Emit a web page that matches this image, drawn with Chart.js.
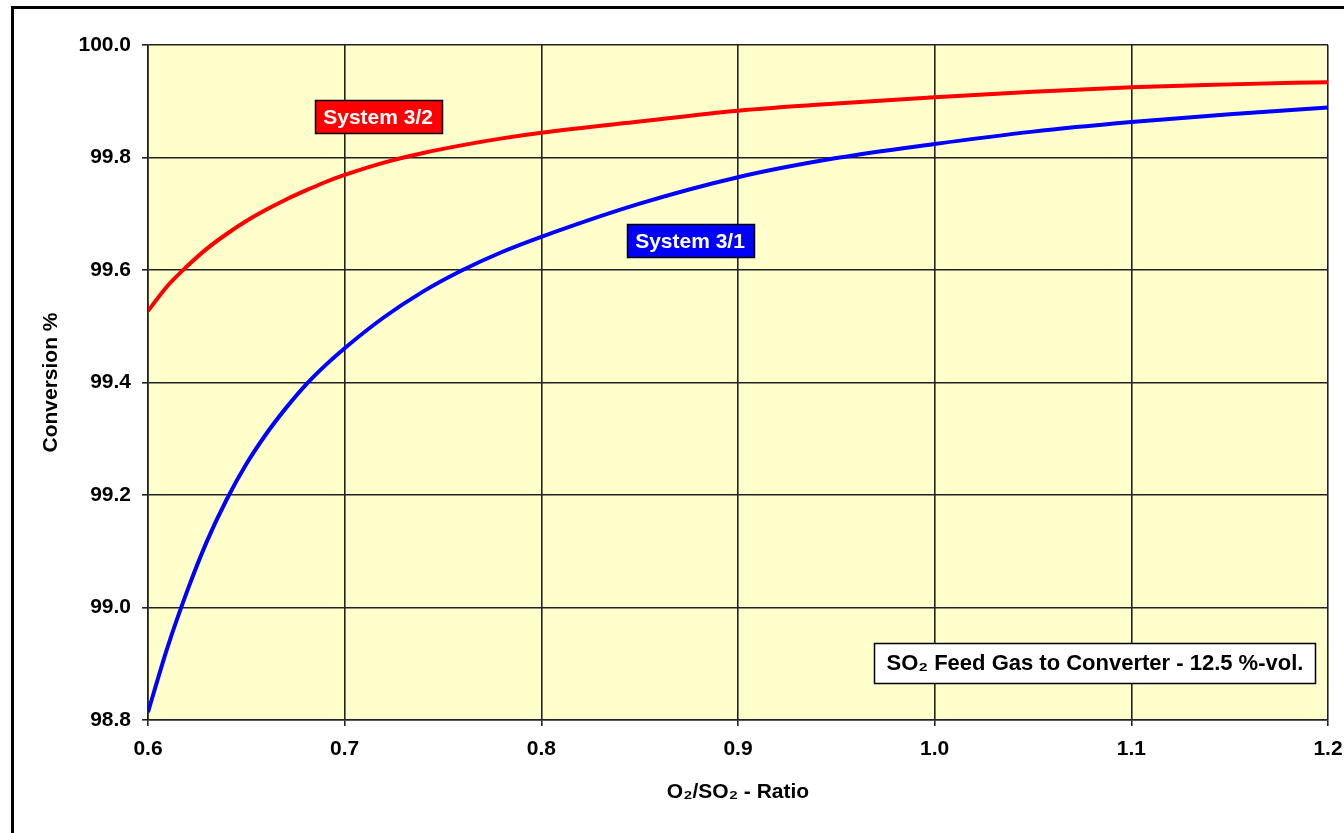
<!DOCTYPE html>
<html>
<head>
<meta charset="utf-8">
<script src="https://cdn.jsdelivr.net/npm/chart.js@4.4.0/dist/chart.umd.min.js"></script>
<style>
  html, body { margin: 0; padding: 0; background: #fff; }
  #wrap { width: 1344px; height: 833px; position: relative; }
</style>
</head>
<body>
<div id="wrap"><canvas id="chart" width="1344" height="833"></canvas></div>
<script>
// O2/SO2 ratio and conversion values
const ratio = [0.60, 0.61, 0.62, 0.63, 0.64, 0.65, 0.66, 0.67, 0.68, 0.69, 0.70,
  0.72, 0.74, 0.76, 0.78, 0.80, 0.85, 0.90, 0.95, 1.00, 1.05, 1.10, 1.15, 1.20];
const system32 = [99.527, 99.572, 99.607, 99.638, 99.664, 99.687, 99.707, 99.725, 99.741, 99.756, 99.769,
  99.791, 99.808, 99.822, 99.834, 99.844, 99.864, 99.883, 99.896, 99.907, 99.917, 99.925, 99.930, 99.934];
const system31 = [98.814, 98.930, 99.030, 99.118, 99.192, 99.255, 99.308, 99.354, 99.395, 99.430, 99.461,
  99.516, 99.562, 99.600, 99.632, 99.659, 99.718, 99.765, 99.799, 99.824, 99.846, 99.863, 99.877, 99.889];
const xTicks = [0.6, 0.7, 0.8, 0.9, 1.0, 1.1, 1.2];
const yTicks = [98.8, 99.0, 99.2, 99.4, 99.6, 99.8, 100.0];

const FONT = '"Liberation Sans", Arial, sans-serif';

function pts(ys) {
  return ratio.map((x, i) => ({ x: x, y: ys[i] }));
}

// text boxes placed in data coordinates
const boxes = [
  { text: 'System 3/2', x: 0.717, y: 99.872, w: 127, h: 33, size: 21, bg: '#ff0000', fg: '#ffffff' },
  { text: 'System 3/1', x: 0.8756, y: 99.652, w: 127, h: 33, size: 21, bg: '#0000ff', fg: '#ffffff' },
  { text: 'SO₂ Feed Gas to Converter - 12.5 %-vol.', x: 1.0815, y: 98.901, w: 441, h: 40, size: 22, bg: '#ffffff', fg: '#000000' }
];

const framePlugin = {
  id: 'frame',
  beforeDraw(chart) {
    const ctx = chart.ctx;
    const a = chart.chartArea;
    ctx.save();
    ctx.fillStyle = '#ffffff';
    ctx.fillRect(0, 0, chart.width, chart.height);
    ctx.fillStyle = '#000000';
    ctx.fillRect(11, 6, 3, chart.height);
    ctx.fillRect(11, 6, chart.width, 3);
    ctx.fillStyle = '#ffffcc';
    ctx.fillRect(a.left, a.top, a.right - a.left, a.bottom - a.top);
    ctx.restore();
  },
  afterDatasetsDraw(chart) {
    const ctx = chart.ctx;
    const sx = chart.scales.x, sy = chart.scales.y;
    ctx.save();
    boxes.forEach(b => {
      const cx = sx.getPixelForValue(b.x);
      const cy = sy.getPixelForValue(b.y);
      const l = Math.round(cx - b.w / 2), t = Math.round(cy - b.h / 2);
      ctx.fillStyle = b.bg;
      ctx.fillRect(l, t, b.w, b.h);
      ctx.strokeStyle = '#000';
      ctx.lineWidth = 1.5;
      ctx.strokeRect(l + 0.5, t + 0.5, b.w, b.h);
      ctx.fillStyle = b.fg;
      ctx.font = 'bold ' + b.size + 'px ' + FONT;
      ctx.textAlign = 'center';
      ctx.textBaseline = 'middle';
      ctx.fillText(b.text, cx, cy + 1);
    });
    ctx.restore();
  }
};

new Chart(document.getElementById('chart'), {
  type: 'line',
  data: {
    datasets: [
      { label: 'System 3/2', data: pts(system32), borderColor: '#ff0000', borderWidth: 4,
        pointRadius: 0, cubicInterpolationMode: 'monotone', fill: false },
      { label: 'System 3/1', data: pts(system31), borderColor: '#0000ff', borderWidth: 4,
        pointRadius: 0, cubicInterpolationMode: 'monotone', fill: false }
    ]
  },
  options: {
    responsive: false,
    animation: false,
    layout: { padding: { left: 0, top: 45, right: 16, bottom: 0 } },
    plugins: { legend: { display: false }, tooltip: { enabled: false } },
    scales: {
      x: {
        type: 'linear',
        min: 0.6, max: 1.2,
        afterBuildTicks(s) { s.ticks = xTicks.map(v => ({ value: v })); },
        afterFit(s) { s.height = 113; s.paddingLeft = 0; s.paddingRight = 0; },
        ticks: {
          color: '#000', padding: 11, maxRotation: 0,
          font: { family: FONT, size: 21, weight: 'bold' },
          callback: v => v.toFixed(1)
        },
        grid: { color: '#222', lineWidth: 1.6, tickLength: 6, drawTicks: true },
        border: { color: '#222', width: 1.6 },
        title: {
          display: true, text: 'O₂/SO₂ - Ratio', color: '#000',
          font: { family: FONT, size: 21, weight: 'bold' },
          padding: { top: 0, bottom: 28 }
        }
      },
      y: {
        min: 98.8, max: 100,
        afterBuildTicks(s) { s.ticks = yTicks.map(v => ({ value: v })); },
        afterFit(s) { s.width = 148; },
        ticks: {
          color: '#000', padding: 11,
          font: { family: FONT, size: 21, weight: 'bold' },
          callback: v => v.toFixed(1)
        },
        grid: { color: '#222', lineWidth: 1.6, tickLength: 6, drawTicks: true },
        border: { color: '#222', width: 1.6 },
        title: {
          display: true, text: 'Conversion %', color: '#000',
          font: { family: FONT, size: 21, weight: 'bold' },
          padding: { top: 39, bottom: 0 }
        }
      }
    }
  },
  plugins: [framePlugin]
});
</script>
</body>
</html>
